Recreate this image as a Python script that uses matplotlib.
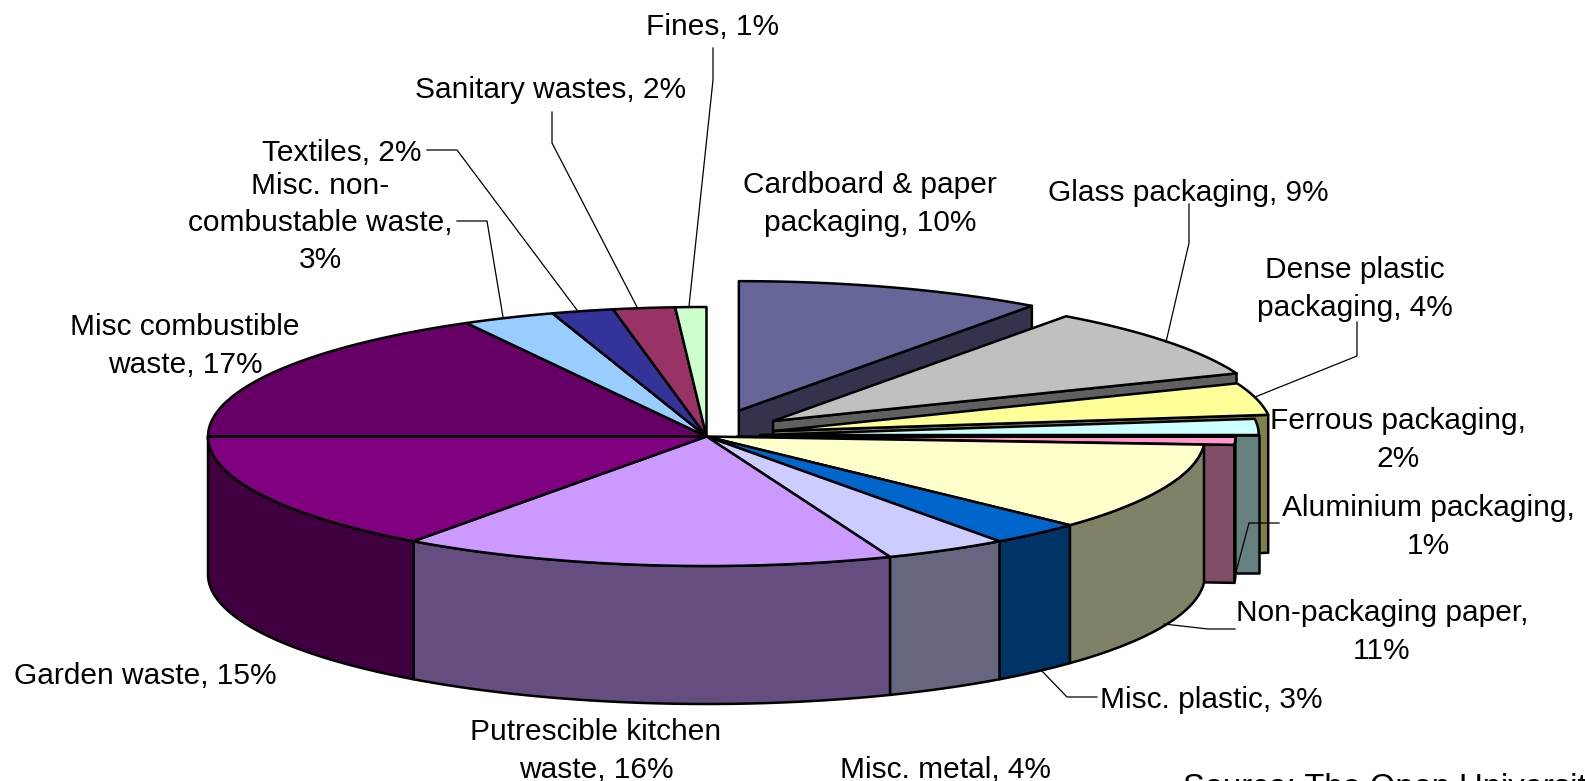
import numpy as np
import matplotlib
matplotlib.use("Agg")
import matplotlib.pyplot as plt

plt.rcParams['font.family'] = ['Liberation Sans', 'DejaVu Sans']

# waste shares in %, clockwise from the top of the pie
categories = ['Cardboard & paper packaging', 'Glass packaging', 'Dense plastic packaging',
              'Ferrous packaging', 'Aluminium packaging', 'Non-packaging paper',
              'Misc. plastic', 'Misc. metal', 'Putrescible kitchen waste', 'Garden waste',
              'Misc combustible waste', 'Misc. non-combustable waste', 'Textiles',
              'Sanitary wastes', 'Fines']
values = [10, 9, 4, 2, 1, 11, 3, 4, 16, 15, 17, 3, 2, 2, 1]
explode_x = [0.21, 0.169, 0.139, 0.108, 0.061, 0, 0, 0, 0, 0, 0, 0, 0, 0, 0]
explode_y = [0.21, 0.195, 0.17, 0.18, 0.061, 0, 0, 0, 0, 0, 0, 0, 0, 0, 0]
top_colors = ['#666699', '#C0C0C0', '#FFFF99', '#CCFFFF', '#FF99CC', '#FFFFCC', '#0066CC',
              '#CCCCFF', '#CC99FF', '#800080', '#660066', '#99CCFF', '#333399', '#993366',
              '#CCFFCC']
wall_colors = ['#33334D', '#606060', '#80804D', '#668080', '#804D66', '#808066', '#003366',
               '#666680', '#664D80', '#400040', '#330033', '#4D6680', '#1A1A4D', '#4D1A33',
               '#668066']

# label text, centre x, centre y
labels = [
    ('Fines, 1%', 713, 27),
    ('Sanitary wastes, 2%', 551, 90),
    ('Textiles, 2%', 342, 153),
    ('Misc. non-\ncombustable waste,\n3%', 320, 223),
    ('Misc combustible\nwaste, 17%', 185, 346),
    ('Cardboard & paper\npackaging, 10%', 870, 204),
    ('Glass packaging, 9%', 1188, 193),
    ('Dense plastic\npackaging, 4%', 1355, 289),
    ('Ferrous packaging,\n2%', 1398, 440),
    ('Aluminium packaging,\n1%', 1428, 527),
    ('Non-packaging paper,\n11%', 1382, 632),
    ('Misc. plastic, 3%', 1211, 700),
    ('Misc. metal, 4%', 945, 770),
    ('Putrescible kitchen\nwaste, 16%', 596, 751),
    ('Garden waste, 15%', 145, 676),
]

leaders = [
    [(713, 48), (713, 80), (689, 306)],
    [(552, 112), (552, 143), (637, 307)],
    [(427, 150), (457, 150), (577, 310)],
    [(457, 221), (487, 221), (503, 317)],
    [(1189, 204), (1189, 243), (1166, 342)],
    [(1357, 322), (1357, 356), (1255, 397)],
    [(1279, 523), (1249, 523), (1236, 572)],
    [(1235, 629), (1208, 629), (1164, 624)],
    [(1097, 697), (1067, 697), (1041, 670)],
]

cx, cy = 706.5, 436.5
rx, ry = 498.5, 129.5
depth = 138


def rim(theta, ox=0, oy=0):
    return cx + ox + rx * np.sin(theta), cy + oy - ry * np.cos(theta)


fig = plt.figure(figsize=(15.85, 7.81), dpi=100)
ax = fig.add_axes([0, 0, 1, 1])
ax.set_xlim(0, 1585)
ax.set_ylim(781, 0)
ax.axis('off')

edges = np.cumsum([0] + values) / sum(values) * 2 * np.pi
lw = 1.8

# back to front: exploded slices first, the closed part of the pie last
for i in range(len(values)):
    a, b = edges[i], edges[i + 1]
    mid = (a + b) / 2
    ox = explode_x[i] * rx * np.sin(mid)
    oy = -explode_y[i] * ry * np.cos(mid)

    # cut face on the clockwise edge
    if explode_x[i] > 0 and b < np.pi:
        x, y = rim(b, ox, oy)
        ax.fill([cx + ox, x, x, cx + ox], [cy + oy, y, y + depth, cy + oy + depth],
                facecolor=wall_colors[i], edgecolor='black', lw=lw, joinstyle='round')

    # outer wall, only the front half of the rim shows
    lo, hi = max(a, np.pi / 2), min(b, 3 * np.pi / 2)
    if hi > lo:
        t = np.linspace(lo, hi, 80)
        x, y = rim(t, ox, oy)
        ax.fill(np.r_[x, x[::-1]], np.r_[y, y[::-1] + depth],
                facecolor=wall_colors[i], edgecolor='black', lw=lw, joinstyle='round')

    # top face
    t = np.linspace(a, b, 80)
    x, y = rim(t, ox, oy)
    ax.fill(np.r_[cx + ox, x], np.r_[cy + oy, y],
            facecolor=top_colors[i], edgecolor='black', lw=lw, joinstyle='round')

for pts in leaders:
    xs, ys = zip(*pts)
    ax.plot(xs, ys, color='black', lw=0.9)

for text, x, y in labels:
    ax.text(x, y, text, ha='center', va='center', fontsize=21.5, linespacing=1.41,
            color='black')

ax.text(1183, 796.5, 'Source: The Open University', ha='left', va='baseline', fontsize=23.6,
        color='black')

fig.savefig('out.png', dpi=100)
